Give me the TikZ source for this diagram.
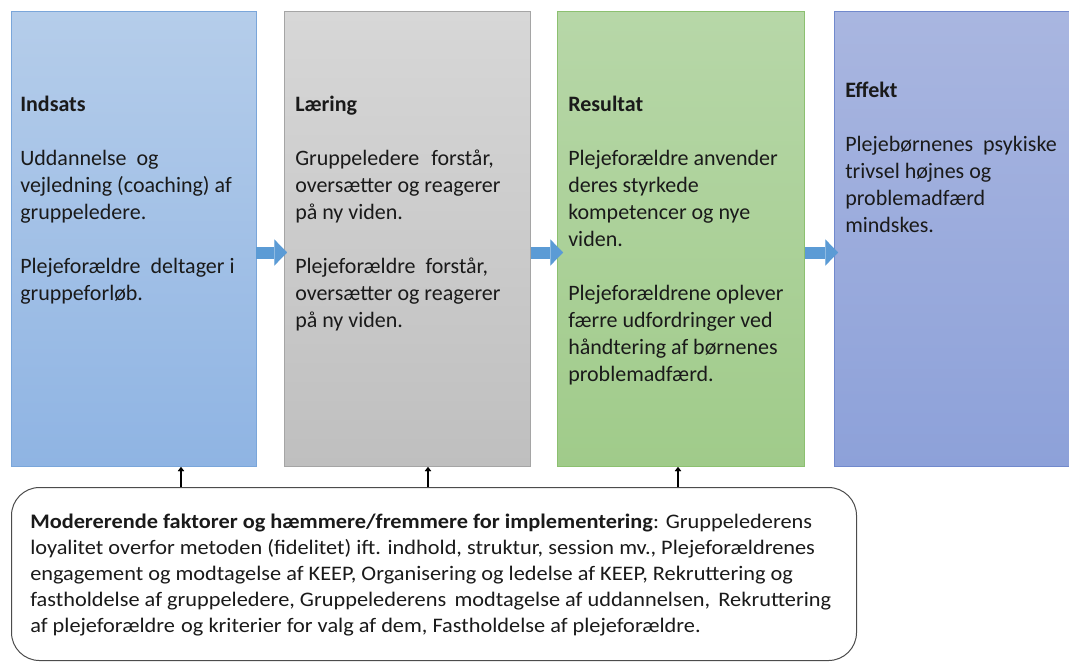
\documentclass[tikz,border=0pt]{standalone}
\usepackage{fontspec}
\setmainfont{Carlito}
\newfontfamily\modfont[FakeStretch=1.08]{Carlito}
\usetikzlibrary{arrows.meta,calc}
\definecolor{cAtop}{HTML}{B5CDEA}
\definecolor{cAbot}{HTML}{8FB4E3}
\definecolor{cAline}{HTML}{7AA6DA}
\definecolor{cBtop}{HTML}{D7D7D7}
\definecolor{cBbot}{HTML}{BFBFBF}
\definecolor{cBline}{HTML}{A5A5A5}
\definecolor{cCtop}{HTML}{B7D7A8}
\definecolor{cCbot}{HTML}{A0CB8A}
\definecolor{cCline}{HTML}{8CC070}
\definecolor{cDtop}{HTML}{A9B6E0}
\definecolor{cDbot}{HTML}{8DA1D9}
\definecolor{cDline}{HTML}{7189CC}
\definecolor{arrblue}{HTML}{5B9BD5}
\definecolor{txtcol}{HTML}{1A1A1A}
\newcommand\stbox[2]{\parbox[t]{#1}{\raggedright #2}}
\begin{document}
\begin{tikzpicture}[x=0.75pt,y=-0.75pt,
  stage/.style={anchor=north west, inner sep=0pt, line width=0.75pt,
    minimum height=341.25pt},
  txt/.style={anchor=base west, inner sep=0pt, text=txtcol,
    font=\fontsize{16.5}{20.25}\selectfont},
  modtxt/.style={anchor=base west, inner sep=0pt, text=txtcol,
    font=\modfont\fontsize{15.5}{19.5}\selectfont},
  blockarrow/.style={line width=9pt, draw=arrblue,
    -{Triangle[width=19.5pt,length=9.5pt,line width=0.01pt]}},
  smallarrow/.style={line width=2.2pt, draw=black,
    -{Triangle[width=4.8pt,length=3pt,line width=0.01pt]}},
  modbox/.style={anchor=north west, inner sep=0pt, draw=black!70,
    line width=0.75pt, rounded corners=21pt, fill=white}
]
\useasboundingbox (0,0) rectangle (1069,661);

\node[stage, draw=cAline, top color=cAtop, bottom color=cAbot,
  minimum width=183.75pt] (b1) at (11,11) {};
\node[stage, draw=cBline, top color=cBtop, bottom color=cBbot,
  minimum width=184.5pt] (b2) at (284,11) {};
\node[stage, draw=cCline, top color=cCtop, bottom color=cCbot,
  minimum width=185.25pt] (b3) at (557,11) {};
\node[stage, draw=cDline, top color=cDtop, bottom color=cDbot,
  minimum width=177.75pt] (b4) at (834,11) {};

\node[txt] (t1) at (20,111) {\stbox{200pt}{\textbf{Indsats}\\[20.25pt]
  Uddannelse\hspace{0.45em}og\\
  vejledning (coaching) af\\
  gruppeledere.\\[20.25pt]
  Plejeforældre\hspace{0.45em}deltager i\\
  gruppeforløb.}};
\node[txt] (t2) at (295,111) {\stbox{200pt}{\textbf{Læring}\\[20.25pt]
  Gruppeledere\hspace{0.55em}forstår,\\
  oversætter og reagerer\\
  på ny viden.\\[20.25pt]
  Plejeforældre\hspace{0.45em}forstår,\\
  oversætter og reagerer\\
  på ny viden.}};
\node[txt] (t3) at (568,111) {\stbox{200pt}{\textbf{Resultat}\\[20.25pt]
  Plejeforældre anvender\\
  deres styrkede\\
  kompetencer og nye\\
  viden.\\[20.25pt]
  Plejeforældrene oplever\\
  færre udfordringer ved\\
  håndtering af børnenes\\
  problemadfærd.}};
\node[txt] (t4) at (845,97) {\stbox{200pt}{\textbf{Effekt}\\[20.25pt]
  Plejebørnenes\hspace{0.45em}psykiske\\
  trivsel højnes og\\
  problemadfærd\\
  mindskes.}};

\draw[blockarrow] ($(b1.east)+(-1,13.5)$) -- ($(b2.west)+(3,13.5)$);
\draw[blockarrow] ($(b2.east)+(0,13.5)$) -- ($(b3.west)+(6,13.5)$);
\draw[blockarrow] ($(b3.east)+(0,13.5)$) -- ($(b4.west)+(4,13.5)$);

\node[modbox, minimum width=633.75pt, minimum height=129.75pt] (mod) at (11,487) {};
\node[modtxt] (mt) at (30,528) {\stbox{700pt}{\textbf{Modererende faktorer og hæmmere/fremmere for implementering}: Gruppelederens\\
  loyalitet overfor metoden (fidelitet) ift. indhold, struktur, session mv., Plejeforældrenes\\
  engagement og modtagelse af KEEP, Organisering og ledelse af KEEP, Rekruttering og\\
  fastholdelse af gruppeledere, Gruppelederens\hspace{0.4em}modtagelse af uddannelsen,\hspace{0.4em}Rekruttering\\
  af plejeforældre\hspace{0.3em}og kriterier for valg af dem, Fastholdelse af plejeforældre.}};

\coordinate (p1) at (181,487);
\coordinate (p2) at (428,487);
\coordinate (p3) at (678,487);
\draw[smallarrow] (p1) -- (p1 |- b1.south);
\draw[smallarrow] (p2) -- (p2 |- b2.south);
\draw[smallarrow] (p3) -- (p3 |- b3.south);
\end{tikzpicture}
\end{document}
